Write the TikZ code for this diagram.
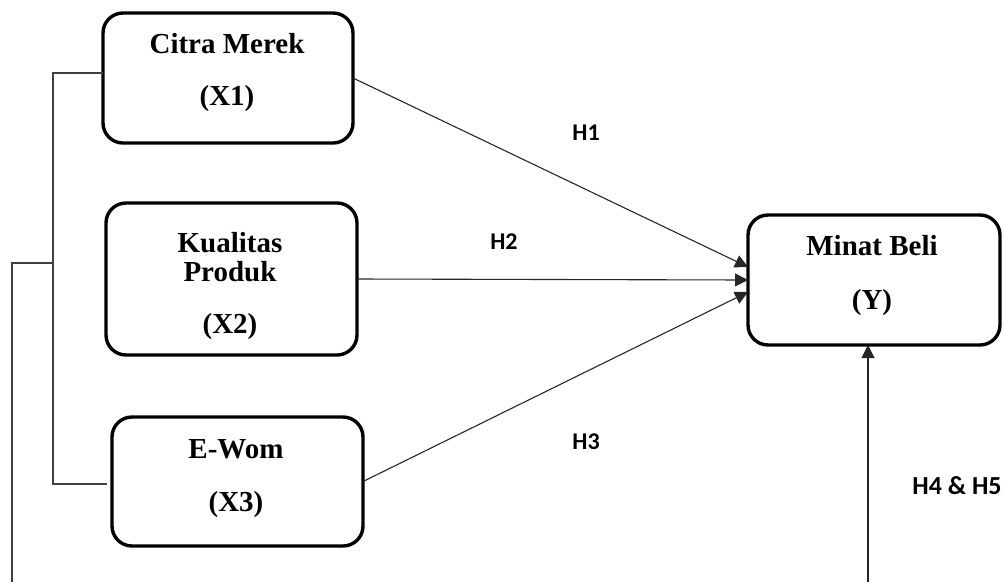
\documentclass[tikz,border=0pt]{standalone}
\usepackage{fontspec}
\setmainfont{Liberation Serif}
\newfontfamily\calib{Carlito}
\usetikzlibrary{arrows.meta,calc}
\begin{document}
\begin{tikzpicture}[x=1pt,y=-1pt,
  varbox/.style={draw=black,line width=3.4pt,rounded corners=20pt,inner sep=0pt,outer sep=0pt},
  boxtxt/.style={anchor=base,inner sep=0pt,font=\fontsize{29}{31}\selectfont\bfseries},
  hyp/.style={anchor=base,inner sep=0pt,font=\calib\fontsize{24}{26}\selectfont\bfseries},
  conn/.style={draw=black!85,line width=1.1pt,-{Triangle[length=13pt,width=13pt]}},
  brack/.style={draw=black!75,line width=1.6pt}]
\useasboundingbox (0,0) rectangle (1006,582);
% boxes
\node[varbox,minimum width=250pt,minimum height=130pt] (x1) at (228,78) {};
\node[varbox,minimum width=251pt,minimum height=152pt] (x2) at (231.5,279) {};
\node[varbox,minimum width=251pt,minimum height=129pt] (x3) at (237.5,481.5) {};
\node[varbox,minimum width=252pt,minimum height=130pt] (y) at (874,280) {};
% box texts
\node[boxtxt] (x1a) at (227,53.5) {Citra Merek};
\node[boxtxt] (x1b) at (227,105.5) {(X1)};
\node[boxtxt] (x2a) at (230,252.5) {Kualitas};
\node[boxtxt] (x2b) at (230,281.5) {Produk};
\node[boxtxt] (x2c) at (230,333.5) {(X2)};
\node[boxtxt] (x3a) at (236,458.5) {E-Wom};
\node[boxtxt] (x3b) at (236,511.5) {(X3)};
\node[boxtxt] (ya) at (872,255.5) {Minat Beli};
\node[boxtxt] (yb) at (872,309.5) {(Y)};
% hypothesis labels
\node[hyp] (h1) at (586,140) {H1};
\node[hyp] (h2) at (504,249) {H2};
\node[hyp] (h3) at (586,449) {H3};
\node[hyp,font=\calib\fontsize{26}{28}\selectfont\bfseries] (h45) at (957,494) {H4 \& H5};
% connectors to Y
\draw[conn] (x1.east) -- ($(y.west)+(0,-13)$);
\draw[conn] (x2.east) -- (y.west);
\draw[conn] (x3.east) -- ($(y.west)+(0,12)$);
\coordinate (bot) at (868,582);
\draw[conn] (bot) -- (bot |- y.south);
% bracket
\coordinate (bt) at (53,73);
\coordinate (bm) at (53,263);
\coordinate (bb) at (53,484);
\coordinate (ol) at (12,582);
\draw[brack] ($(x1.west)+(0,-5)$) -- (bt) -- (bb) -- ($(x3.west |- bb)+(-5,0)$);
\draw[brack] (bm) -- (bm -| ol) -- (ol);
\end{tikzpicture}
\end{document}
